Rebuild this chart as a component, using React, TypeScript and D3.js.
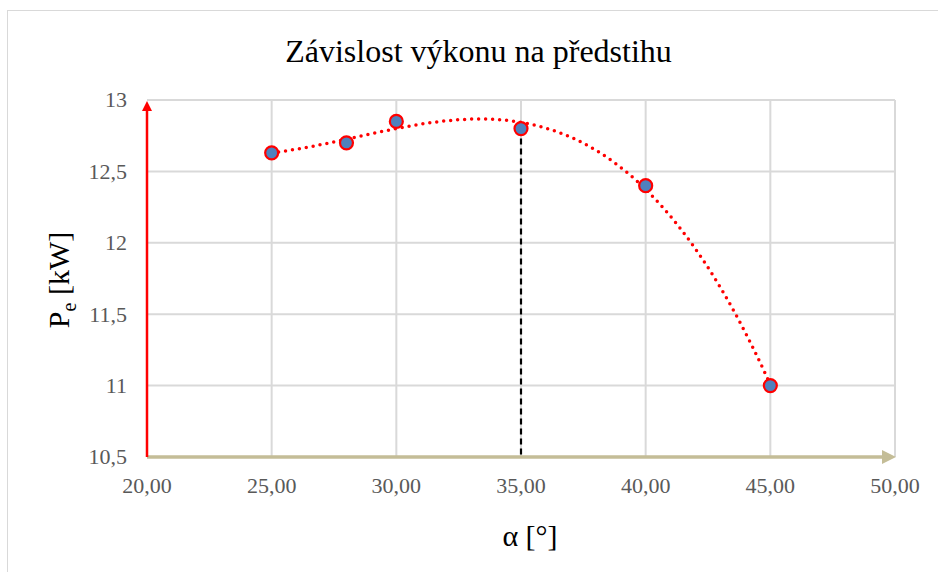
import React from "react";
import * as d3 from "d3";

const title = "Závislost výkonu na předstihu";
const alphaDeg = [25, 28, 30, 35, 40, 45];
const powerKW = [12.63, 12.7, 12.85, 12.8, 12.4, 11.0];
const xTicks = [20, 25, 30, 35, 40, 45, 50];
const yTicks = [10.5, 11, 11.5, 12, 12.5, 13];
const markerAlpha = 35;
const trendDegree = 3;

function polyfit(xs: number[], ys: number[], deg: number): number[] {
  const n = deg + 1;
  const A: number[][] = [];
  for (let i = 0; i < n; i++) {
    A.push(new Array(n + 1).fill(0));
    for (let j = 0; j < n; j++) {
      A[i][j] = xs.reduce((s, x) => s + Math.pow(x, i + j), 0);
    }
    A[i][n] = xs.reduce((s, x, k) => s + Math.pow(x, i) * ys[k], 0);
  }
  for (let c = 0; c < n; c++) {
    let p = c;
    for (let r = c + 1; r < n; r++) if (Math.abs(A[r][c]) > Math.abs(A[p][c])) p = r;
    [A[c], A[p]] = [A[p], A[c]];
    for (let r = 0; r < n; r++) {
      if (r === c) continue;
      const f = A[r][c] / A[c][c];
      for (let k = c; k <= n; k++) A[r][k] -= f * A[c][k];
    }
  }
  return A.map((row, i) => row[n] / row[i]);
}

export default function App() {
  const W = 938, H = 572;
  const x = d3.scaleLinear().domain([20, 50]).range([147, 895]);
  const y = d3.scaleLinear().domain([10.5, 13]).range([457, 100]);
  const coef = polyfit(alphaDeg, powerKW, trendDegree);
  const f = (a: number) => coef.reduce((s, c, i) => s + c * Math.pow(a, i), 0);
  const trendPts = d3.range(25, 45.001, 0.1).map((a) => [a, f(a)] as [number, number]);
  const line = d3.line<[number, number]>().x((d) => x(d[0])).y((d) => y(d[1])).curve(d3.curveLinear);
  const fmtX = (v: number) => v.toFixed(2).replace(".", ",");
  const fmtY = (v: number) => String(v).replace(".", ",");
  const mIdx = alphaDeg.indexOf(markerAlpha);
  const serif = "Liberation Serif, Times New Roman, serif";
  return (
    <svg width={W} height={H} style={{ position: "absolute", left: 0, top: 0, fontFamily: serif }}>
      <defs>
        <marker id="arrRed" viewBox="0 0 10 10" refX="5" refY="5" markerWidth="4" markerHeight="4" orient="auto">
          <path d="M0,0 L10,5 L0,10 z" fill="#ff0000" />
        </marker>
        <marker id="arrTan" viewBox="0 0 10 10" refX="5" refY="5" markerWidth="4" markerHeight="4" orient="auto">
          <path d="M0,0 L10,5 L0,10 z" fill="#c4bd97" />
        </marker>
      </defs>
      <rect x={0} y={0} width={W} height={H} fill="#fff" />
      <rect x={7.5} y={10.5} width={W} height={H} fill="#fff" stroke="#d9d9d9" strokeWidth={1} />
      <text x={478.5} y={62} textAnchor="middle" fontSize={32} fill="#000">{title}</text>
      {xTicks.slice(1).map((t) => (
        <line key={"gx" + t} x1={x(t)} x2={x(t)} y1={y(13)} y2={y(10.5)} stroke="#d9d9d9" strokeWidth={2} />
      ))}
      {yTicks.slice(1).map((t) => (
        <line key={"gy" + t} x1={x(20)} x2={x(50)} y1={y(t)} y2={y(t)} stroke="#d9d9d9" strokeWidth={2} />
      ))}
      {yTicks.map((t) => (
        <text key={"ty" + t} x={127} y={y(t)} dy="0.34em" textAnchor="end" fontSize={22} fill="#595959">{fmtY(t)}</text>
      ))}
      {xTicks.map((t) => (
        <text key={"tx" + t} x={x(t)} y={493} textAnchor="middle" fontSize={22} fill="#595959">{fmtX(t)}</text>
      ))}
      <line x1={x(markerAlpha)} x2={x(markerAlpha)} y1={y(powerKW[mIdx])} y2={y(10.5)} stroke="#000" strokeWidth={2.2} strokeDasharray="6 4" />
      <line x1={x(20)} x2={x(50) - 6} y1={y(10.5)} y2={y(10.5)} stroke="#c4bd97" strokeWidth={3.5} markerEnd="url(#arrTan)" />
      <line x1={x(20)} x2={x(20)} y1={y(10.5)} y2={y(13) + 6} stroke="#ff0000" strokeWidth={2.5} markerEnd="url(#arrRed)" />
      <path d={line(trendPts) || ""} fill="none" stroke="#ff0000" strokeWidth={3.5} strokeDasharray="0 7" strokeLinecap="round" />
      {alphaDeg.map((a, i) => (
        <circle key={"p" + a} cx={x(a)} cy={y(powerKW[i])} r={6.5} fill="#4f81bd" stroke="#ff0000" strokeWidth={2.2} />
      ))}
      <text transform={`translate(69, ${280}) rotate(-90)`} textAnchor="middle" fontSize={30} fill="#000">
        P<tspan fontSize={20} dy={7}>e</tspan><tspan dy={-7}> [kW]</tspan>
      </text>
      <text x={530} y={546} textAnchor="middle" fontSize={30} fill="#000">α [°]</text>
    </svg>
  );
}
